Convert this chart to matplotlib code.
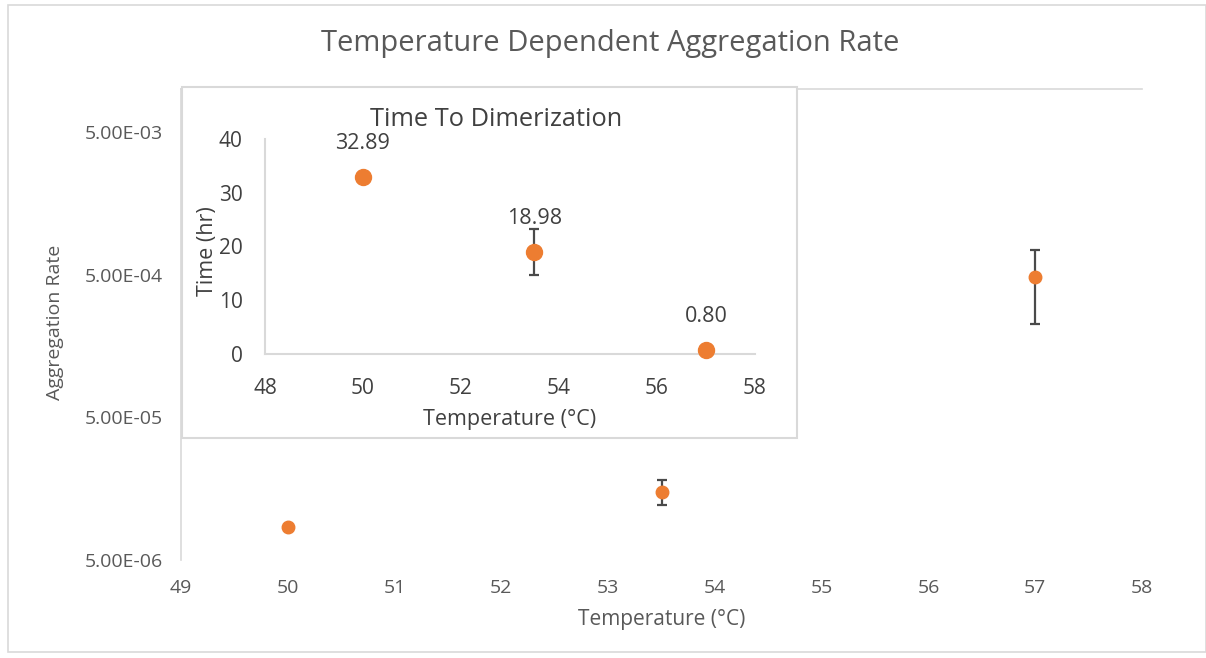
import matplotlib
matplotlib.use("Agg")
import matplotlib.pyplot as plt
from matplotlib.patches import Rectangle

plt.rcParams['font.family'] = ['Open Sans', 'DejaVu Sans']

# Main chart data
temps = [50, 53.5, 57]
rates = [8.5e-6, 1.5e-5, 4.85e-4]
rate_err_low = [0.0, 0.28e-5, 2.6e-4]
rate_err_high = [0.0, 0.33e-5, 2.65e-4]
main_yticks = [5e-6, 5e-5, 5e-4, 5e-3]
main_ytick_labels = ["5.00E-06", "5.00E-05", "5.00E-04", "5.00E-03"]
main_xticks = [49, 50, 51, 52, 53, 54, 55, 56, 57, 58]

# Inset data
times = [32.89, 18.98, 0.80]
time_err = [0.6, 4.2, 0.2]
time_labels = ["32.89", "18.98", "0.80"]
inset_xticks = [48, 50, 52, 54, 56, 58]
inset_yticks = [0, 10, 20, 30, 40]

W, H = 1206, 658
fig = plt.figure(figsize=(W / 100, H / 100), dpi=100)
fig.patch.set_facecolor('white')

txt = '#595959'
dark = '#404040'
orange = '#ED7D31'
errc = '#4A4A4A'
grid = '#D9D9D9'

def fx(px):
    return px / W

def fy(py):
    return 1 - py / H

# Outer chart border
fig.add_artist(Rectangle((fx(8), fy(652)), (W - 8) / W, (652 - 5) / H,
                         transform=fig.transFigure, fill=False,
                         edgecolor=grid, linewidth=1.2))

# Main axes
ax = fig.add_axes([fx(181), fy(560), fx(1142) - fx(181), fy(89) - fy(560)])
ax.set_yscale('log')
ax.set_xlim(49, 58)
ax.set_ylim(5e-6, 1e-2)
ax.errorbar(temps, rates, yerr=[rate_err_low, rate_err_high], fmt='o',
            color=orange, markersize=9, ecolor=errc, elinewidth=1.6,
            capsize=3.8, capthick=1.6, zorder=3)
ax.set_yticks(main_yticks)
ax.set_yticklabels(main_ytick_labels)
ax.minorticks_off()
ax.set_xticks(main_xticks)
ax.tick_params(axis='both', length=0, colors=txt, labelsize=14)
ax.tick_params(axis='x', pad=13.5)
ax.tick_params(axis='y', pad=13)
for s in ['right', 'bottom']:
    ax.spines[s].set_visible(False)
ax.spines['left'].set_color(grid)
ax.spines['left'].set_linewidth(1.2)
ax.spines['top'].set_color(grid)
ax.spines['top'].set_linewidth(1.2)
ax.set_xlabel('Temperature (°C)', color=txt, fontsize=15)
ax.set_ylabel('Aggregation Rate', color=txt, fontsize=14)
ax.xaxis.label.set(va='center', ha='center')
ax.yaxis.label.set(va='center', ha='center')
ax.xaxis.set_label_coords((662 - 181) / 961, (560 - 620) / 471)
ax.yaxis.set_label_coords((55 - 181) / 961, (560 - 322) / 471)

fig.text(fx(610), fy(43), 'Temperature Dependent Aggregation Rate',
         ha='center', va='center', color=txt, fontsize=21)

# Inset box
fig.add_artist(Rectangle((fx(182), fy(438)), fx(797) - fx(182), fy(87) - fy(438),
                         transform=fig.transFigure, facecolor='white',
                         edgecolor=grid, linewidth=1.5, zorder=5))

ins = fig.add_axes([fx(265), fy(354), fx(755) - fx(265), fy(139) - fy(354)])
ins.set_zorder(6)
ins.patch.set_alpha(0)
ins.set_xlim(48, 58)
ins.set_ylim(0, 40)
ins.errorbar(temps, times, yerr=time_err, fmt='o', color=orange,
             markersize=11.5, ecolor=errc, elinewidth=1.6, capsize=3.8,
             capthick=1.6, zorder=3, clip_on=False)
for xv, yv, lab in zip(temps, times, time_labels):
    ins.annotate(lab, (xv, yv), xytext=(0, 24), textcoords='offset points',
                 ha='center', va='center', color=dark, fontsize=15.5)
ins.set_xticks(inset_xticks)
ins.set_yticks(inset_yticks)
ins.tick_params(axis='both', length=0, colors=dark, labelsize=15)
ins.tick_params(axis='x', pad=17)
ins.tick_params(axis='y', pad=16)
for s in ['right', 'top']:
    ins.spines[s].set_visible(False)
for s in ['left', 'bottom']:
    ins.spines[s].set_color(grid)
    ins.spines[s].set_linewidth(1.5)
ins.set_xlabel('Temperature (°C)', color=dark, fontsize=15.5)
ins.set_ylabel('Time (hr)', color=dark, fontsize=15.5)
ins.xaxis.label.set(va='center', ha='center')
ins.yaxis.label.set(va='center', ha='center')
ins.xaxis.set_label_coords((510 - 265) / 490, (354 - 419) / 215)
ins.yaxis.set_label_coords((207 - 265) / 490, (354 - 251) / 215)
fig.text(fx(496), fy(119), 'Time To Dimerization', ha='center', va='center',
         color=dark, fontsize=18.3, zorder=7)

fig.savefig('out.png', dpi=100, facecolor='white')
